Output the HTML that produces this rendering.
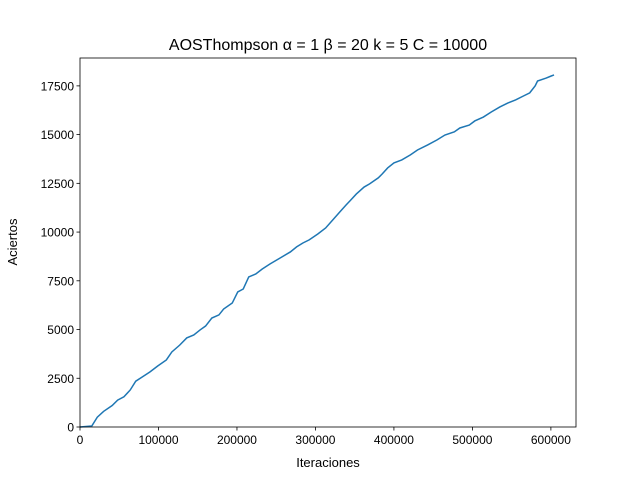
<!DOCTYPE html>
<html><head><meta charset="utf-8"><style>
body{margin:0;background:#fff;}
svg text{font-family:"Liberation Sans","DejaVu Sans",sans-serif;fill:#000;}
</style></head><body>
<svg id="chart" width="640" height="480" xmlns="http://www.w3.org/2000/svg">
<rect width="640" height="480" fill="#fff"/>
<text x="328" y="50" font-size="16" text-anchor="middle">AOSThompson α = 1 β = 20 k = 5 C = 10000</text>
<text x="328" y="467" font-size="13" text-anchor="middle">Iteraciones</text>
<text transform="translate(17,242) rotate(-90)" font-size="13" text-anchor="middle">Aciertos</text>
<g id="plot"></g>
</svg>
<script>
const xVals=[0,15000,22000,30000,41000,48000,56000,64000,71000,79000,89000,99000,110000,117000,127000,136000,145000,153000,160000,168000,177000,183000,194000,201000,208000,215000,224000,232000,242000,255000,268000,276000,284000,292000,303000,313000,322000,331000,339000,344000,352000,362000,369000,380000,385000,392000,400000,410000,421000,430000,443000,455000,465000,477000,484000,496000,503000,514000,524000,535000,545000,555000,565000,573000,580000,583000,594000,600000,604000];
const yVals=[0,50,500,800,1100,1380,1550,1900,2350,2560,2820,3130,3440,3850,4200,4570,4720,4980,5180,5590,5750,6050,6360,6930,7080,7700,7850,8100,8360,8670,8980,9240,9440,9600,9900,10210,10620,11030,11390,11600,11950,12310,12470,12780,12980,13290,13550,13700,13960,14210,14470,14730,14980,15140,15340,15490,15700,15900,16160,16420,16620,16780,16980,17140,17500,17750,17900,18000,18060];
const xTicks=[0,100000,200000,300000,400000,500000,600000];
const yTicks=[0,2500,5000,7500,10000,12500,15000,17500];
const L=80,R=576,T=58,B=427,XMAX=632000,YMAX=18930;
const sx=v=>L+(v/XMAX)*(R-L);
const sy=v=>B-(v/YMAX)*(B-T);
const g=document.getElementById('plot');
const NS='http://www.w3.org/2000/svg';
function mk(t,a){const e=document.createElementNS(NS,t);for(const k in a)e.setAttribute(k,a[k]);g.appendChild(e);return e;}
const line=mk('polyline',{points:xVals.map((x,i)=>sx(x)+','+sy(yVals[i])).join(' '),fill:'none',stroke:'#1f77b4','stroke-width':1.5});


xTicks.forEach(v=>{const x=sx(v);
 const t=mk('line',{x1:x,x2:x,y1:B,y2:B+3.5,stroke:'#000','stroke-width':0.8});
 
 
 const l=mk('text',{x:x,y:B+17,'font-size':12,'text-anchor':'middle'});l.textContent=v;
 
 });
yTicks.forEach(v=>{const y=sy(v);
 const t=mk('line',{x1:L-3.5,x2:L,y1:y,y2:y,stroke:'#000','stroke-width':0.8});
 
 
 const l=mk('text',{x:L-6,y:y+4.5,'font-size':12,'text-anchor':'end'});l.textContent=v;
 
 });
const fr=mk('rect',{x:L,y:T,width:R-L,height:B-T,fill:'none',stroke:'#000','stroke-width':0.8});


</script>
</body></html>
